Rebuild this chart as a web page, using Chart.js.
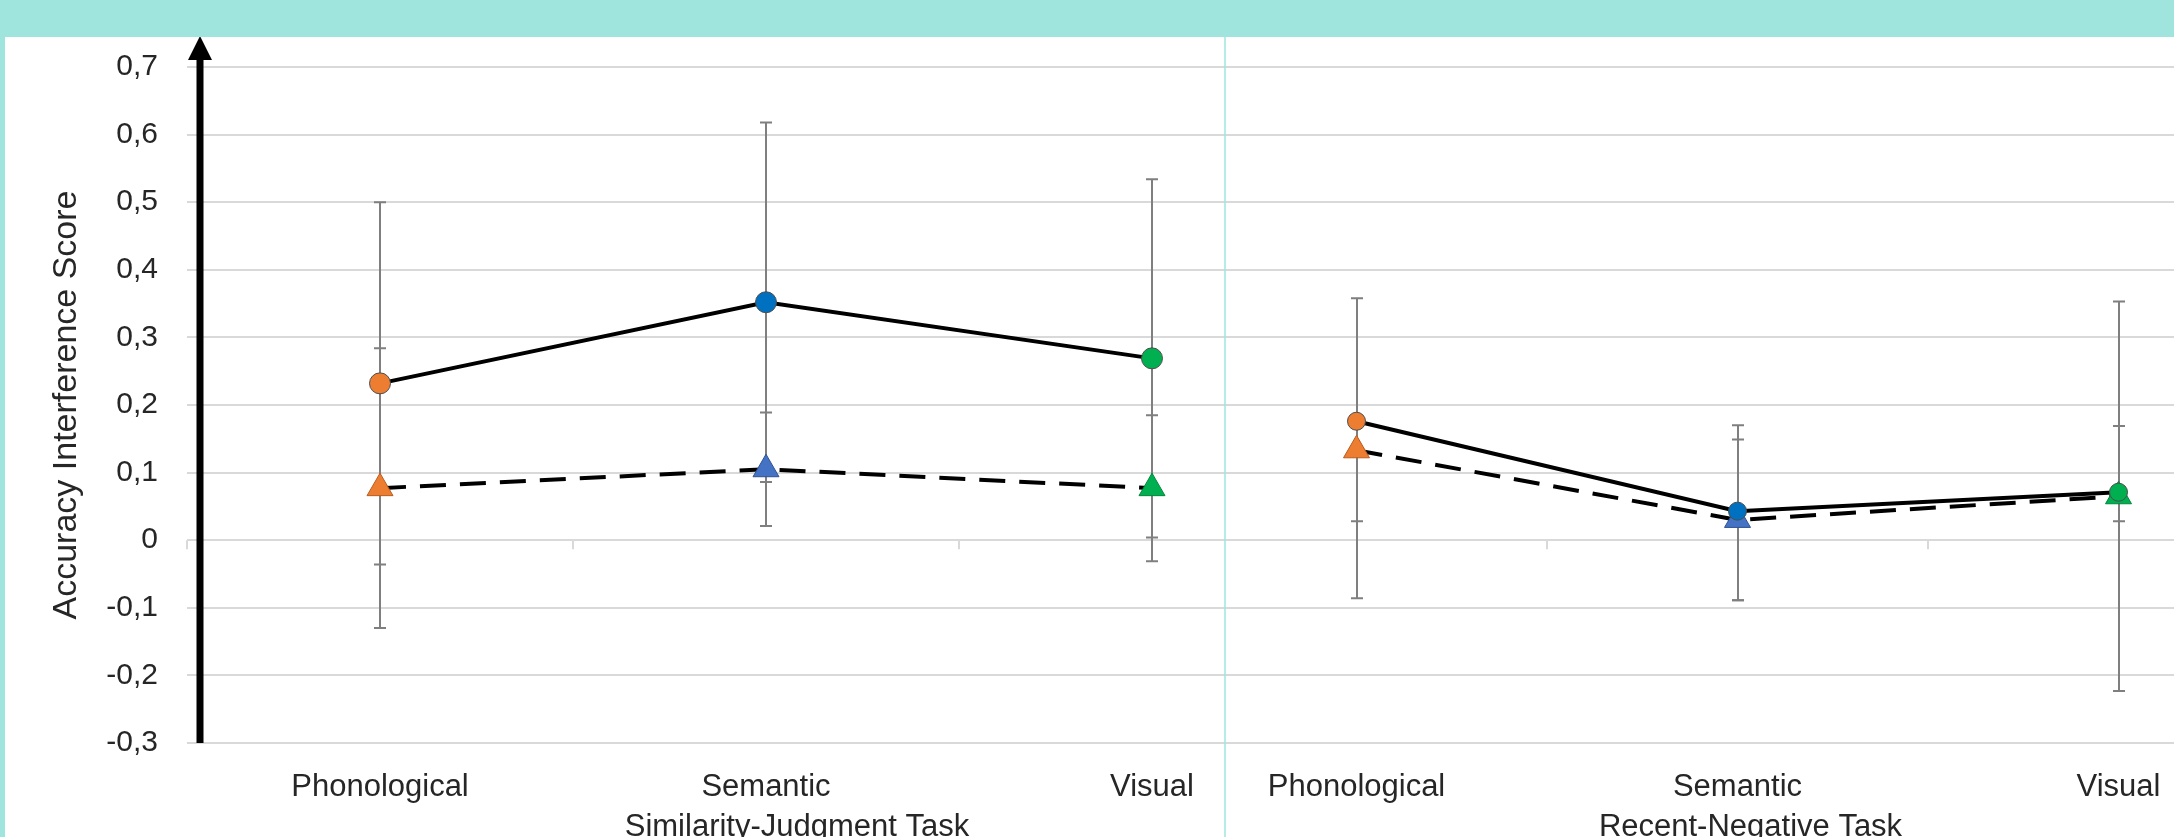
<!DOCTYPE html>
<html><head><meta charset="utf-8">
<script src="https://cdn.jsdelivr.net/npm/chart.js@4.4.1/dist/chart.umd.min.js"></script>
<style>
html,body{margin:0;padding:0;width:2174px;height:837px;overflow:hidden;background:#9FE5DD;}
#panel{position:absolute;left:5px;top:37px;width:2169px;height:800px;background:#fff;}
#c1{position:absolute;left:5px;top:37px;}
#c2{position:absolute;left:1150px;top:37px;}
</style></head><body>
<div id="panel"></div>
<canvas id="c1" width="1360" height="800"></canvas>
<canvas id="c2" width="1175" height="800"></canvas>
<script>
// ---------- data ----------
const categories = ['Phonological', 'Semantic', 'Visual'];
const taskLabels = ['Similarity-Judgment Task', 'Recent-Negative Task'];
const yTickValues = [-0.3, -0.2, -0.1, 0, 0.1, 0.2, 0.3, 0.4, 0.5, 0.6, 0.7];
const yTickLabels = ['-0,3', '-0,2', '-0,1', '0', '0,1', '0,2', '0,3', '0,4', '0,5', '0,6', '0,7'];
const yAxisTitle = 'Accuracy Interference Score';

// Similarity-Judgment Task
const simCircle = [0.232, 0.352, 0.269];
const simCirclePlus = [0.268, 0.266, 0.265];
const simCircleMinus = [0.268, 0.266, 0.265];
const simTriangle = [0.077, 0.105, 0.077];
const simTrianglePlus = [0.207, 0.084, 0.108];
const simTriangleMinus = [0.207, 0.084, 0.108];

// Recent-Negative Task
const recCircle = [0.176, 0.043, 0.071];
const recCirclePlus = [0, 0.127, 0.098];
const recCircleMinus = [0.148, 0.132, 0.043];
const recTriangle = [0.133, 0.030, 0.065];
const recTrianglePlus = [0.225, 0.119, 0.288];
const recTriangleMinus = [0.219, 0.119, 0.288];

const circleColors = ['#ED7D31', '#0070C0', '#00B050'];
const triangleColors = ['#ED7D31', '#4472C4', '#00B050'];
const triangleBorders = ['#B85C1E', '#2F528F', '#00873D'];
const textColor = '#262626';

Chart.defaults.font.family = '"Liberation Sans", Arial, sans-serif';

// ---------- plugins ----------
const errorBars = {
  id: 'errorBars',
  beforeDatasetsDraw(chart) {
    const ctx = chart.ctx, y = chart.scales.y;
    ctx.save();
    ctx.strokeStyle = '#7F7F7F';
    ctx.lineWidth = 2;
    chart.data.datasets.forEach((ds, di) => {
      const meta = chart.getDatasetMeta(di);
      meta.data.forEach((pt, i) => {
        const v = ds.data[i];
        const top = y.getPixelForValue(v + ds.errPlus[i]);
        const bot = y.getPixelForValue(v - ds.errMinus[i]);
        const px = Math.round(pt.x);
        ctx.beginPath();
        ctx.moveTo(px, top); ctx.lineTo(px, bot);
        if (ds.errPlus[i] > 0) { ctx.moveTo(px - 6, top); ctx.lineTo(px + 6, top); }
        if (ds.errMinus[i] > 0) { ctx.moveTo(px - 6, bot); ctx.lineTo(px + 6, bot); }
        ctx.stroke();
      });
    });
    ctx.restore();
  }
};

const decor = {
  id: 'decor',
  beforeDraw(chart, args, o) {
    const ctx = chart.ctx;
    ctx.save();
    if (o.clipLeft != null) {
      ctx.beginPath();
      ctx.rect(o.clipLeft, 0, chart.width - o.clipLeft, chart.height);
      ctx.clip();
      ctx.fillStyle = '#ffffff';
      ctx.fillRect(o.clipLeft, 0, chart.width - o.clipLeft, chart.height);
    }
  },
  beforeDatasetsDraw(chart) {
    const ctx = chart.ctx, xs = chart.scales.x, ys = chart.scales.y;
    const y0 = ys.getPixelForValue(0);
    const n = chart.data.labels.length;
    ctx.save();
    ctx.strokeStyle = '#D9D9D9';
    ctx.lineWidth = 2;
    ctx.beginPath();
    for (let i = 0; i <= n; i++) {
      const px = Math.round(xs.getPixelForValue(i - 0.5));
      ctx.moveTo(px, y0); ctx.lineTo(px, y0 + 9);
    }
    ctx.stroke();
    ctx.restore();
  },
  afterDraw(chart, args, o) {
    const ctx = chart.ctx, ca = chart.chartArea, xs = chart.scales.x;
    if (o.arrow) {
      const ax = ca.left + o.arrow.dx;
      ctx.fillStyle = '#000';
      ctx.fillRect(ax - 3.5, ca.top - 8, 7, ca.bottom - ca.top + 8);
      ctx.beginPath();
      ctx.moveTo(ax, ca.top - 31);
      ctx.lineTo(ax - 12, ca.top - 7);
      ctx.lineTo(ax + 12, ca.top - 7);
      ctx.closePath();
      ctx.fill();
    }
    if (o.group) {
      ctx.font = '31px "Liberation Sans", Arial, sans-serif';
      ctx.fillStyle = textColor;
      ctx.textAlign = 'center';
      ctx.textBaseline = 'alphabetic';
      ctx.fillText(o.group.text, xs.getPixelForValue(1) + o.group.dx, ca.bottom + o.group.dy);
    }
    if (o.clipLeft != null) {
      ctx.strokeStyle = '#9FE5DD';
      ctx.lineWidth = 1.5;
      ctx.beginPath();
      ctx.moveTo(o.clipLeft + 1, 0);
      ctx.lineTo(o.clipLeft + 1, chart.height);
      ctx.stroke();
    }
    ctx.restore();
  }
};

// ---------- chart builder ----------
function makeChart(id, circ, circP, circM, tri, triP, triM, o) {
  return new Chart(document.getElementById(id), {
    type: 'line',
    data: {
      labels: categories,
      datasets: [
        {
          data: circ, errPlus: circP, errMinus: circM,
          borderColor: '#000000', borderWidth: 4, tension: 0, fill: false,
          pointStyle: 'circle', pointRadius: o.circleR,
          pointBackgroundColor: circleColors, pointBorderColor: '#4D4D4D', pointBorderWidth: 1
        },
        {
          data: tri, errPlus: triP, errMinus: triM,
          borderColor: '#000000', borderWidth: 4, borderDash: [26, 14], tension: 0, fill: false,
          pointStyle: 'triangle', pointRadius: 15,
          pointBackgroundColor: triangleColors, pointBorderColor: triangleBorders, pointBorderWidth: 1
        }
      ]
    },
    options: {
      responsive: false, animation: false, devicePixelRatio: 1,
      layout: { padding: { left: o.padLeft, right: o.padRight, top: 30, bottom: 0 } },
      plugins: {
        legend: { display: false },
        tooltip: { enabled: false },
        decor: o.decor
      },
      scales: {
        x: {
          type: 'category', offset: true,
          grid: { display: false, drawTicks: false },
          border: { display: false },
          ticks: { font: { size: 31 }, color: textColor, padding: 26, maxRotation: 0, autoSkip: false },
          afterFit(s) { s.height = 94; }
        },
        y: {
          min: -0.3, max: 0.7,
          afterBuildTicks(s) { s.ticks = yTickValues.map(v => ({ value: v })); },
          grid: { color: '#D9D9D9', lineWidth: 2, drawTicks: false },
          border: { display: false },
          ticks: {
            display: o.showY,
            callback: (v) => yTickLabels[Math.round(v * 10) + 3],
            font: { size: 30 }, color: textColor, padding: 29
          },
          title: {
            display: o.showY, text: yAxisTitle,
            font: { size: 34 }, color: textColor, padding: { top: 41, bottom: 0 }
          },
          afterFit(s) { s.width = o.yWidth; s.paddingTop = 0; s.paddingBottom = 0; }
        }
      }
    },
    plugins: [errorBars, decor]
  });
}

makeChart('c1', simCircle, simCirclePlus, simCircleMinus, simTriangle, simTrianglePlus, simTriangleMinus, {
  circleR: 10.5, padLeft: 0, padRight: 20, showY: true, yWidth: 182,
  decor: { arrow: { dx: 13 }, group: { text: taskLabels[0], dx: 31, dy: 93 } }
});
makeChart('c2', recCircle, recCirclePlus, recCircleMinus, recTriangle, recTrianglePlus, recTriangleMinus, {
  circleR: 9, padLeft: 7, padRight: 10, showY: false, yWidth: 0,
  decor: { clipLeft: 74, group: { text: taskLabels[1], dx: 13, dy: 93 } }
});
</script>
</body></html>
